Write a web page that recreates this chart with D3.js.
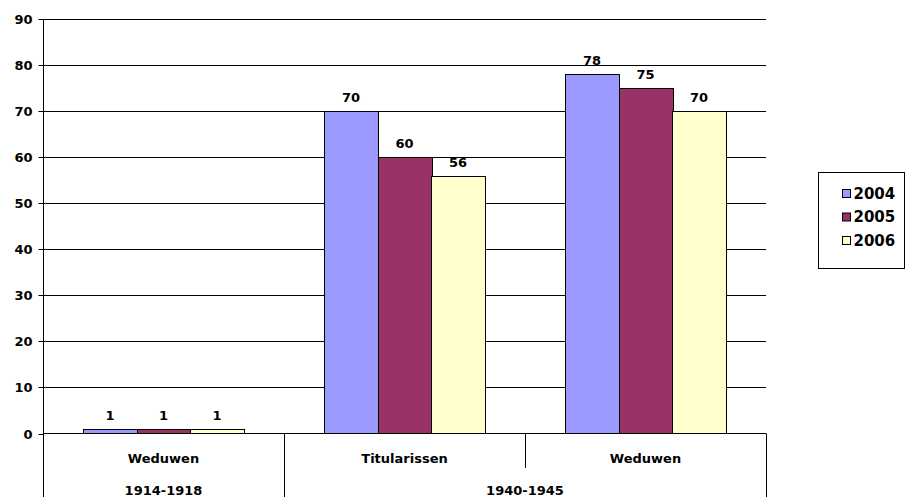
<!DOCTYPE html>
<html>
<head>
<meta charset="utf-8">
<script src="https://cdn.jsdelivr.net/npm/d3@7"></script>
<style>
  body { margin: 0; background: #fff; }
  svg { display: block; font-family: "DejaVu Sans", sans-serif; font-weight: bold; }
</style>
</head>
<body>
<div id="chart"></div>
<script>
// data
const categories = ["Weduwen", "Titularissen", "Weduwen"];
const periods = [
  { label: "1914-1918", from: 0, to: 1 },
  { label: "1940-1945", from: 1, to: 3 }
];
const seriesNames = ["2004", "2005", "2006"];
const values2004 = [1, 70, 78];
const values2005 = [1, 60, 75];
const values2006 = [1, 56, 70];
const colors = ["#9999FF", "#993366", "#FFFFCC"];
const yTicks = [0, 10, 20, 30, 40, 50, 60, 70, 80, 90];

const width = 915, height = 497;
const plotLeft = 43, plotRight = 766, plotTop = 19, zeroY = 433.5;
const fs = 13;

const svg = d3.select("#chart").append("svg")
  .attr("width", width)
  .attr("height", height);

const y = d3.scaleLinear().domain([0, 90]).range([zeroY, plotTop]);
const x = d3.scaleBand().domain(d3.range(categories.length)).range([plotLeft, plotRight]).paddingInner(0).paddingOuter(0);
const inner = d3.scaleBand().domain(seriesNames).range([0, x.bandwidth()]).paddingOuter(0.75);

// gridlines
svg.append("g")
  .selectAll("line")
  .data(yTicks.filter(d => d > 0))
  .enter().append("line")
  .attr("x1", plotLeft).attr("x2", plotRight)
  .attr("y1", d => Math.round(y(d)) + 0.5)
  .attr("y2", d => Math.round(y(d)) + 0.5)
  .attr("stroke", "#000")
  .attr("stroke-width", 1);

// y axis
const yAxis = d3.axisLeft(y).tickValues(yTicks).tickSize(5).tickPadding(6);
const ga = svg.append("g").attr("transform", "translate(" + (plotLeft + 0.5) + ",0)").call(yAxis);
ga.select(".domain").remove();
ga.selectAll(".tick line").attr("stroke", "#000");
ga.selectAll(".tick").attr("transform", d => "translate(0," + (Math.round(y(d)) + 0.5) + ")");
ga.selectAll("text")
  .attr("font-size", fs)
  .attr("font-family", "DejaVu Sans, sans-serif")
  .attr("font-weight", "bold")
  .attr("fill", "#000")
  .attr("dy", "0.36em");

// bars
const rows = categories.map((c, i) => ({
  i: i,
  vals: [values2004[i], values2005[i], values2006[i]]
}));

const groups = svg.append("g").selectAll("g")
  .data(rows)
  .enter().append("g")
  .attr("transform", d => "translate(" + x(d.i) + ",0)");

groups.selectAll("rect")
  .data(d => d.vals.map((v, k) => ({ v: v, k: k })))
  .enter().append("rect")
  .attr("x", d => Math.round(inner(seriesNames[d.k])) + 0.5)
  .attr("width", Math.round(inner.bandwidth()))
  .attr("y", d => Math.round(y(d.v)) + 0.5)
  .attr("height", d => zeroY - Math.round(y(d.v)) - 0.5)
  .attr("fill", d => colors[d.k])
  .attr("stroke", "#000")
  .attr("stroke-width", 1);

groups.selectAll("text")
  .data(d => d.vals.map((v, k) => ({ v: v, k: k })))
  .enter().append("text")
  .attr("x", d => inner(seriesNames[d.k]) + inner.bandwidth() / 2)
  .attr("y", d => y(d.v) - 9)
  .attr("text-anchor", "middle")
  .attr("font-size", fs)
  .text(d => d.v);

// axis lines and category box
const axisG = svg.append("g").attr("stroke", "#000").attr("stroke-width", 1);
axisG.append("line").attr("x1", plotLeft).attr("x2", plotRight).attr("y1", zeroY).attr("y2", zeroY);
axisG.append("line").attr("x1", plotLeft + 0.5).attr("x2", plotLeft + 0.5).attr("y1", plotTop).attr("y2", height);

// period dividers (full height) and category dividers (half height)
const periodEdges = [periods[0].to, periods[1].to];
axisG.selectAll(".pdiv")
  .data(periodEdges)
  .enter().append("line")
  .attr("class", "pdiv")
  .attr("x1", d => Math.round(x(d - 1) + x.bandwidth()) + 0.5)
  .attr("x2", d => Math.round(x(d - 1) + x.bandwidth()) + 0.5)
  .attr("y1", zeroY).attr("y2", height);

axisG.selectAll(".cdiv")
  .data(d3.range(1, categories.length).filter(i => !periodEdges.includes(i)))
  .enter().append("line")
  .attr("class", "cdiv")
  .attr("x1", d => Math.round(x(d)) + 0.5)
  .attr("x2", d => Math.round(x(d)) + 0.5)
  .attr("y1", zeroY).attr("y2", 468);

svg.append("g").selectAll("text")
  .data(categories)
  .enter().append("text")
  .attr("x", (d, i) => x(i) + x.bandwidth() / 2)
  .attr("y", 463)
  .attr("text-anchor", "middle")
  .attr("font-size", fs)
  .text(d => d);

svg.append("g").selectAll("text")
  .data(periods)
  .enter().append("text")
  .attr("x", d => (x(d.from) + x(d.to - 1) + x.bandwidth()) / 2)
  .attr("y", 495)
  .attr("text-anchor", "middle")
  .attr("font-size", fs)
  .text(d => d.label);

// legend
const legend = svg.append("g").attr("transform", "translate(818.5,172.5)");
legend.append("rect")
  .attr("width", 86).attr("height", 96)
  .attr("fill", "#fff").attr("stroke", "#000");

const items = legend.selectAll("g.item")
  .data(seriesNames)
  .enter().append("g")
  .attr("class", "item")
  .attr("transform", (d, i) => "translate(24," + (17 + i * 23.5) + ")");

items.append("rect")
  .attr("width", 8).attr("height", 8)
  .attr("fill", (d, i) => colors[i])
  .attr("stroke", "#000");

items.append("text")
  .attr("x", 11)
  .attr("y", 9)
  .attr("font-size", 15)
  .text(d => d);
</script>
</body>
</html>
